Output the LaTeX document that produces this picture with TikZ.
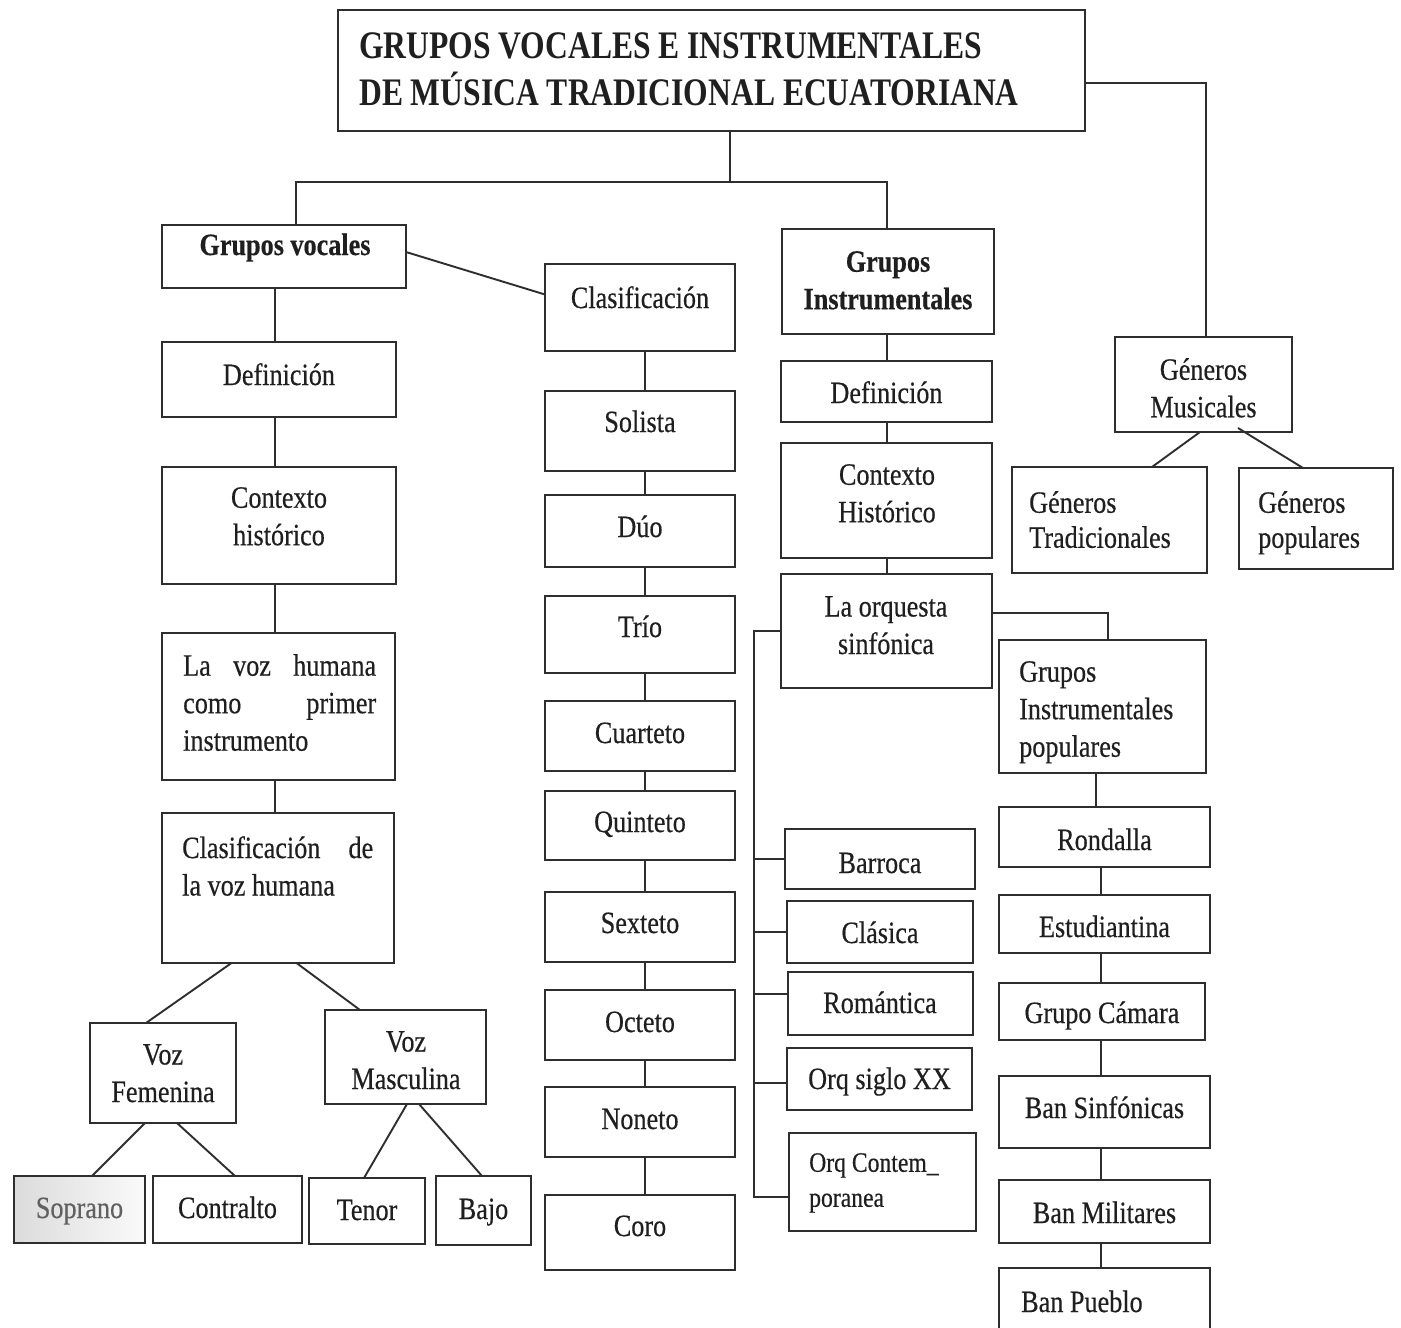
\documentclass[tikz,border=0pt]{standalone}
\usepackage{fontspec}
\setmainfont{Liberation Serif}[FakeStretch=0.845,FakeBold=0.4]
\newfontfamily\titlefont{Liberation Serif}[FakeStretch=0.81]
\newcommand\mybox[6][]{%
  \pgfmathsetmacro\mbw{#5-#3}\pgfmathsetmacro\mbh{#6-#4}%
  \node[box,#1,minimum width=\mbw pt,minimum height=\mbh pt] (#2) at ({(#3+#5)/2},{(#4+#6)/2}) {};}
\begin{document}
\begin{tikzpicture}[x=1pt,y=-1pt,
  box/.style={draw=black!82,line width=2.4pt,inner sep=0pt,outer sep=0pt},
  ln/.style={draw=black!82,line width=1.9pt},
  txt/.style={inner sep=0pt,text=black!88,font=\fontsize{31}{37.5}\selectfont},
  btxt/.style={txt,font=\bfseries\fontsize{31}{37.5}\selectfont}]
\useasboundingbox (0,0) rectangle (1401,1328);
\fill[white] (0,0) rectangle (1401,1328);

% ---------- boxes ----------
\mybox{title}{338}{10}{1085}{131}
\mybox{gv}{162}{225}{406}{288}
\mybox{def1}{162}{342}{396}{417}
\mybox{ctx1}{162}{467}{396}{584}
\mybox{voz}{162}{633}{395}{780}
\mybox{clv}{162}{813}{394}{963}
\mybox{vf}{90}{1023}{236}{1123}
\mybox{vm}{325}{1010}{486}{1104}
\mybox[left color=black!14,right color=black!2]{sop}{14}{1176}{145}{1243}
\mybox{con}{153}{1176}{302}{1243}
\mybox{ten}{309}{1178}{425}{1244}
\mybox{baj}{436}{1176}{531}{1245}
\mybox{cla}{545}{264}{735}{351}
\mybox{sol}{545}{391}{735}{471}
\mybox{duo}{545}{495}{735}{567}
\mybox{tri}{545}{596}{735}{673}
\mybox{cua}{545}{701}{735}{771}
\mybox{qui}{545}{791}{735}{860}
\mybox{sex}{545}{892}{735}{962}
\mybox{oct}{545}{990}{735}{1060}
\mybox{non}{545}{1087}{735}{1157}
\mybox{cor}{545}{1195}{735}{1270}
\mybox{gi}{782}{229}{994}{334}
\mybox{def2}{781}{361}{992}{422}
\mybox{ctx2}{781}{443}{992}{558}
\mybox{orq}{781}{574}{992}{688}
\mybox{gip}{999}{640}{1206}{773}
\mybox{bar}{785}{829}{975}{889}
\mybox{cls}{787}{901}{973}{963}
\mybox{rom}{788}{972}{973}{1035}
\mybox{s20}{787}{1048}{972}{1110}
\mybox{cnt}{789}{1133}{976}{1231}
\mybox{ron}{999}{807}{1210}{867}
\mybox{est}{999}{895}{1210}{953}
\mybox{gca}{999}{983}{1205}{1040}
\mybox{bsi}{999}{1076}{1210}{1148}
\mybox{bmi}{999}{1180}{1210}{1243}
\mybox{bpu}{999}{1268}{1210}{1345}
\mybox{gmu}{1115}{337}{1292}{432}
\mybox{gtr}{1012}{467}{1207}{573}
\mybox{gpo}{1239}{468}{1393}{569}

% ---------- texts ----------
\node[txt,font=\titlefont\bfseries\fontsize{39}{47}\selectfont,align=left,anchor=north west] (title-t) at (359,32.5)
  {GRUPOS VOCALES E INSTRUMENTALES\\DE MÚSICA TRADICIONAL ECUATORIANA};
\node[btxt,anchor=base] (gv-t) at (285,255) {Grupos vocales};
\node[txt,anchor=base] (def1-t) at (279,385) {Definición};
\node[txt,align=center,anchor=north] (ctx1-t) at (279,487) {Contexto\\histórico};
\node[txt,align=left,anchor=north west] (voz-t) at (183,654)
  {\hbox to 193pt{La\hfill voz\hfill humana}\\\hbox to 193pt{como\hfill primer}\\instrumento};
\node[txt,align=left,anchor=north west] (clv-t) at (182,836)
  {\hbox to 191pt{Clasificación\hfill de}\\la voz humana};
\node[txt,align=center,anchor=north] (vf-t) at (163,1044) {Voz\\Femenina};
\node[txt,align=center,anchor=north] (vm-t) at (406,1031) {Voz\\Masculina};
\node[txt,anchor=base,text=black!62] (sop-t) at (79.5,1218) {Soprano};
\node[txt,anchor=base] (con-t) at (227.5,1218) {Contralto};
\node[txt,anchor=base] (ten-t) at (367,1220) {Tenor};
\node[txt,anchor=base] (baj-t) at (483.5,1219) {Bajo};

\node[txt,anchor=base] (cla-t) at (640,308) {Clasificación};
\node[txt,anchor=base] (sol-t) at (640,432) {Solista};
\node[txt,anchor=base] (duo-t) at (640,537) {Dúo};
\node[txt,anchor=base] (tri-t) at (640,637) {Trío};
\node[txt,anchor=base] (cua-t) at (640,743) {Cuarteto};
\node[txt,anchor=base] (qui-t) at (640,832) {Quinteto};
\node[txt,anchor=base] (sex-t) at (640,933) {Sexteto};
\node[txt,anchor=base] (oct-t) at (640,1032) {Octeto};
\node[txt,anchor=base] (non-t) at (640,1129) {Noneto};
\node[txt,anchor=base] (cor-t) at (640,1236) {Coro};

\node[btxt,align=center,anchor=north] (gi-t) at (888,251) {Grupos\\Instrumentales};
\node[txt,anchor=base] (def2-t) at (886.5,403) {Definición};
\node[txt,align=center,anchor=north] (ctx2-t) at (887,464) {Contexto\\Histórico};
\node[txt,align=center,anchor=north] (orq-t) at (886,596) {La orquesta\\sinfónica};
\node[txt,align=left,anchor=north west] (gip-t) at (1019,661) {Grupos\\Instrumentales\\populares};
\node[txt,anchor=base] (bar-t) at (880,873) {Barroca};
\node[txt,anchor=base] (cls-t) at (880,943) {Clásica};
\node[txt,anchor=base] (rom-t) at (880,1013) {Romántica};
\node[txt,anchor=base] (s20-t) at (879.5,1089) {Orq siglo XX};
\node[txt,font=\fontsize{28}{35}\selectfont,align=left,anchor=north west] (cnt-t) at (809,1153) {Orq Contem\_\\poranea};

\node[txt,anchor=base] (ron-t) at (1104.5,850) {Rondalla};
\node[txt,anchor=base] (est-t) at (1104.5,937) {Estudiantina};
\node[txt,anchor=base] (gca-t) at (1102,1023) {Grupo Cámara};
\node[txt,anchor=base] (bsi-t) at (1104.5,1118) {Ban Sinfónicas};
\node[txt,anchor=base] (bmi-t) at (1104.5,1223) {Ban Militares};
\node[txt,anchor=base west] (bpu-t) at (1021,1312) {Ban Pueblo};

\node[txt,align=center,anchor=north] (gmu-t) at (1203.5,358) {Géneros\\Musicales};
\node[txt,font=\fontsize{31}{35}\selectfont,align=left,anchor=north west] (gtr-t) at (1029,491) {Géneros\\Tradicionales};
\node[txt,font=\fontsize{31}{35}\selectfont,align=left,anchor=north west] (gpo-t) at (1258,491) {Géneros\\populares};

% ---------- connectors ----------
\coordinate (jm) at (730,182);
\coordinate (jl) at (296,182);
\coordinate (jr) at (887,182);
\draw[ln] (jm |- title.south) -- (jm);
\draw[ln] (jl |- gv.north) -- (jl) -- (jr) -- (jr |- gi.north);
\coordinate (jg) at (1206,83);
\draw[ln] (title.east |- jg) -- (jg) -- (jg |- gmu.north);

\draw[ln] ([yshift=4.5pt]gv.east) -- ([yshift=13pt]cla.west);

% column 1
\coordinate (c1) at (275,0);
\draw[ln] (c1 |- gv.south) -- (c1 |- def1.north);
\draw[ln] (c1 |- def1.south) -- (c1 |- ctx1.north);
\draw[ln] (c1 |- ctx1.south) -- (c1 |- voz.north);
\draw[ln] (c1 |- voz.south) -- (c1 |- clv.north);
\draw[ln] ([xshift=-46.5pt]clv.south) -- ([xshift=-17pt]vf.north);
\draw[ln] ([xshift=18.5pt]clv.south) -- ([xshift=-45.5pt]vm.north);
\draw[ln] ([xshift=-18pt]vf.south) -- ([xshift=12.5pt]sop.north);
\draw[ln] ([xshift=14pt]vf.south) -- ([xshift=7.5pt]con.north);
\draw[ln] ([xshift=1.5pt]vm.south) -- ([xshift=-3pt]ten.north);
\draw[ln] ([xshift=13.5pt]vm.south) -- ([xshift=-1.5pt]baj.north);

% column 2
\coordinate (c2) at (645,0);
\foreach \a/\b in {cla/sol,sol/duo,duo/tri,tri/cua,cua/qui,qui/sex,sex/oct,oct/non,non/cor}
  \draw[ln] (c2 |- \a.south) -- (c2 |- \b.north);

% column 3
\coordinate (c3) at (887,0);
\draw[ln] (c3 |- gi.south) -- (c3 |- def2.north);
\draw[ln] (c3 |- def2.south) -- (c3 |- ctx2.north);
\draw[ln] (c3 |- ctx2.south) -- (c3 |- orq.north);
\coordinate (ko) at (1108,613);
\draw[ln] (orq.east |- ko) -- (ko) -- (ko |- gip.north);
\draw[ln] (orq.west) -- ++(-27,0) -- ++(0,566) -- ([yshift=-15pt]cnt.west);
\draw[ln] (bar.west) -- ++(-31,0);
\draw[ln] (cls.west) -- ++(-33,0);
\draw[ln] ([yshift=9.5pt]rom.west) -- ++(-34,0);
\draw[ln] ([yshift=-4pt]s20.west) -- ++(-33,0);

% column 4
\draw[ln] (gip.south -| 1096,0) -- (ron.north -| 1096,0);
\coordinate (c4) at (1101,0);
\foreach \a/\b in {ron/est,est/gca,gca/bsi,bsi/bmi,bmi/bpu}
  \draw[ln] (c4 |- \a.south) -- (c4 |- \b.north);

% generos
\draw[ln] ([xshift=-3.5pt]gmu.south) -- ([xshift=42.5pt]gtr.north);
\draw[ln] ([xshift=34.5pt,yshift=4pt]gmu.south) -- ([xshift=-13pt]gpo.north);
\end{tikzpicture}
\end{document}
